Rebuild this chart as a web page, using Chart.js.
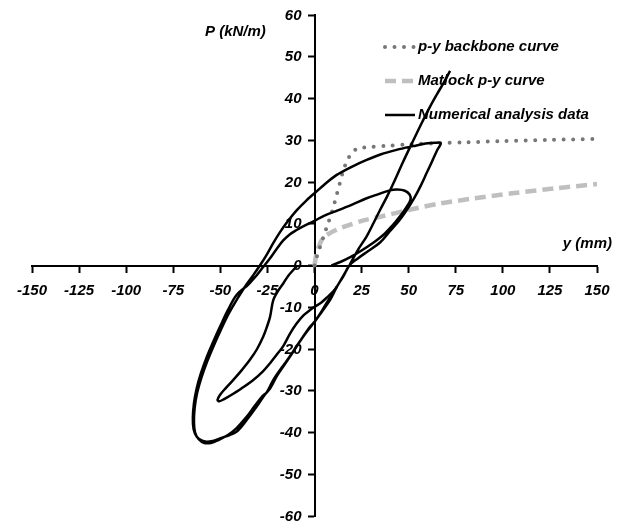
<!DOCTYPE html>
<html><head><meta charset="utf-8">
<script src="https://cdn.jsdelivr.net/npm/chart.js@4.4.1/dist/chart.umd.min.js"></script>
<style>html,body{margin:0;padding:0;background:#fff}#wrap{width:626px;height:524px}</style>
</head><body><div id="wrap"><canvas id="c" width="626" height="524"></canvas></div>
<script>
// ---- data ----
const xTickValues = [-150,-125,-100,-75,-50,-25,0,25,50,75,100,125,150];
const yTickValues = [-60,-50,-40,-30,-20,-10,0,10,20,30,40,50,60];
const seriesNames = ['p-y backbone curve','Matlock p-y curve','Numerical analysis data'];
const xTitle = 'y (mm)';
const yTitle = 'P (kN/m)';

const backboneX = [0,1.5,3,4.5,6,7.5,9,10.5,12,13.5,15,17,19.5,22,25,30,40,50,65,80,100,125,150];
const backboneY = [0,2.5,4.5,6.5,8.5,10.5,12.5,14.8,17.3,19.8,22.3,24.8,26.8,27.8,28.2,28.4,28.7,29,29.3,29.5,29.8,30.1,30.3];

const matlockX = [0,1,2.5,4,6,8,10,14,19,26,36,50,66,85,105,128,150];
const matlockY = [0,2.8,4.8,6.2,7.1,7.7,8.2,9.0,9.8,10.8,11.8,13.3,14.8,16.1,17.3,18.5,19.5];

// numerical analysis data, main path
const numX1 = [9,14,19,25,31,36.5,41,45.4,49,51,50.5,48,44,40,34,27.7,20,11.8,5,0,-5,-9.5,-13,-16.6,-20,-24,-27.5,
  -31,-35,-41.3,-46,-50.2,-54,-57.3,-60.3,-62.6,-64,-64.6,-64.2,-62.5,-60,-57.3,-54,-50.2,-45,-41.3,-36,-30.7,-26.5,-23.6,-20,-16.6,-13,-9.5,-6,-2.4,0,4,8.2,12,15.3,18.5,
  23,28,34.8,40,45,49,53,56.5,59.6,62.5,65,67,
  64,59,52.5,43.6,35,27.7,20,11.8,5,0,-4.5,-9.5,-14,-18.3,-22,-25.5,-29,
  -32.5,-36.5,-41,-45.5,-49.8,-53.5,-57,-60,-62.3,-63.6,-64,-63.4,-61.5,-58.5,-55,-51,-46,-41.5,-36.5,-31.5,-27.5,-25.4,-22,-18.3,-15,-11.5,-8,-4,0,4,8,12,15.5,18.5,
  23,27.7,31.5,34.8,38.5,41.9,47,52.5,57,61.3,65,68.5,72];
const numY1 = [0,0.9,2,3.6,5.4,7.3,9.4,11.8,14.1,15.8,17,17.9,18.2,18,17.1,16.1,14.6,13.1,11.9,10.7,9.6,8.5,7.5,6,4,1.5,-0.5,
  -2.5,-4.5,-7,-10.7,-14.7,-18.5,-22,-25.8,-29.5,-33,-36.5,-39.2,-41,-41.9,-42.2,-42,-41.4,-40.6,-39.8,-37,-33.8,-31,-29.5,-26.5,-24.2,-21.8,-19.4,-17,-14.7,-13.5,-11,-8.3,-5,-2.6,0,
  1.7,3.3,5.5,8.2,10.8,13.3,16.2,19.2,22.2,25,27.5,29.3,
  29.4,29.2,28.6,27.7,26.6,25.3,23.7,21.7,19.3,17.3,15.5,13.2,10.7,8,5.3,2.5,0,
  -2.3,-4.8,-8,-11.5,-15.5,-19.2,-23,-26.8,-30.5,-34,-37.5,-40,-41.6,-42.5,-42.5,-41.8,-40.6,-39,-36.5,-33.5,-31.2,-30.4,-27.5,-25,-23,-20.7,-18.3,-15.8,-13.5,-10.8,-7.8,-5,-2.3,0,
  3.7,7,10.3,13.3,16.5,19.7,24.8,30,34.2,38,41,43.7,46.6];

// numerical analysis data, inner negative loop
const numX2 = [-9,-11.5,-14,-16.6,-19.5,-21.9,-23.6,-25.5,-27.2,-30.5,-34.3,-38.5,-43.1,-47,-50.2,-51.5,-50.5,-48,-44.9,-39,-32.5,-27.5,-23.6,-20,-16.6,-13,-9.5,-6,-3,0,3.5,7,10,12];
const numY2 = [0,-1.2,-2.5,-4.3,-6.2,-8.3,-12.3,-15,-17,-20,-22.6,-25,-27.4,-29.3,-31,-32.2,-32.5,-32,-31.2,-29.5,-27.4,-25.4,-23.4,-21.3,-19.3,-16.3,-13.9,-12,-10.9,-9.9,-8.9,-7.5,-6.2,-5];

// ---- chart ----
const pts = (xs, ys) => xs.map((x, i) => ({x: x, y: ys[i]}));
const FONT = '"Liberation Sans", Arial, sans-serif';
const tickFont = {family: FONT, size: 15, weight: 'bold', style: 'italic'};
const CSSFONT = 'italic bold 15px ' + FONT;

const numStyle = {showLine: true, borderColor: '#000', borderWidth: 2.5, pointRadius: 0, tension: 0.35, fill: false, order: 0};

const decor = {
  id: 'decor',
  beforeDatasetsDraw(chart) {
    const c = chart.ctx;
    const xs = chart.scales.x, ys = chart.scales.y;
    c.save();
    c.font = CSSFONT;
    c.fillStyle = '#000';
    c.textBaseline = 'middle';
    // y tick labels, placed through the y scale
    c.textAlign = 'right';
    const ax = xs.getPixelForValue(0);
    yTickValues.forEach(v => c.fillText(String(v), ax - 13, ys.getPixelForValue(v) + 0.5));
    // axis titles
    c.textAlign = 'left';
    c.fillText(yTitle, 205, 32);
    c.textAlign = 'right';
    c.fillText(xTitle, 612, 244);
    // legend
    const order = [2, 3, 0];
    const rows = [47, 81, 115];
    order.forEach((di, k) => {
      const ds = chart.data.datasets[di];
      const y = rows[k];
      c.save();
      c.strokeStyle = ds.borderColor;
      c.lineWidth = ds.borderWidth;
      c.lineCap = ds.borderCapStyle || 'butt';
      c.setLineDash(ds.borderDash || []);
      c.beginPath();
      c.moveTo(385, y);
      c.lineTo(415, y);
      c.stroke();
      c.restore();
      c.textAlign = 'left';
      c.fillText(ds.label, 418, y);
    });
    c.restore();
  }
};

new Chart(document.getElementById('c'), {
  type: 'scatter',
  data: {
    datasets: [
      Object.assign({label: seriesNames[2], data: pts(numX1, numY1)}, numStyle),
      Object.assign({label: seriesNames[2], data: pts(numX2, numY2)}, numStyle),
      {label: seriesNames[0], data: pts(backboneX, backboneY), showLine: true, borderColor: '#777777', borderWidth: 4,
        borderDash: [0, 9.5], borderCapStyle: 'round', pointRadius: 0, tension: 0.3, order: 1},
      {label: seriesNames[1], data: pts(matlockX, matlockY), showLine: true, borderColor: '#bfbfbf', borderWidth: 4.5,
        borderDash: [11, 6], pointRadius: 0, tension: 0.3, order: 2}
    ]
  },
  options: {
    responsive: false,
    animation: false,
    events: [],
    layout: {padding: {left: 32, right: 29, top: 15, bottom: 8}},
    plugins: {legend: {display: false}, tooltip: {enabled: false}},
    scales: {
      x: {
        type: 'linear', min: -150, max: 150, position: {y: 0},
        afterBuildTicks: ax => { ax.ticks = xTickValues.map(v => ({value: v})); },
        grid: {drawOnChartArea: false, drawTicks: true, tickLength: 6, tickWidth: 2, tickColor: '#000'},
        border: {display: true, color: '#000', width: 2},
        ticks: {color: '#000', font: tickFont, padding: 10, maxRotation: 0, autoSkip: false}
      },
      y: {
        type: 'linear', min: -60, max: 60, position: {x: 0},
        afterBuildTicks: ax => { ax.ticks = yTickValues.map(v => ({value: v})); },
        grid: {drawOnChartArea: false, drawTicks: true, tickLength: 6, tickWidth: 2, tickColor: '#000'},
        border: {display: true, color: '#000', width: 2},
        ticks: {display: false}
      }
    }
  },
  plugins: [decor]
});
</script>
</body></html>
